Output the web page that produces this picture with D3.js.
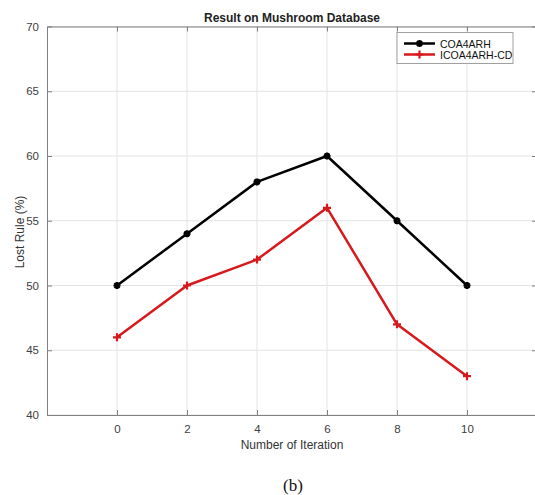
<!DOCTYPE html>
<html><head><meta charset="utf-8">
<script src="https://cdn.jsdelivr.net/npm/d3@7"></script>
<style>body{margin:0;background:#fff}svg{display:block}</style>
</head><body>
<svg id="c" width="535" height="495"></svg>
<script>
const iterations = [0, 2, 4, 6, 8, 10];
const coa4arh = [50, 54, 58, 60, 55, 50];
const icoa4arhCD = [46, 50, 52, 56, 47, 43];
const xTicks = [0, 2, 4, 6, 8, 10];
const yTicks = [40, 45, 50, 55, 60, 65, 70];
const seriesNames = ["COA4ARH", "ICOA4ARH-CD"];
const seriesColors = ["#000000", "#d7191c"];

const svg = d3.select("#c");
const L = 47, R = 537, T = 26.5, B = 415;
const x = d3.scaleLinear().domain([-2, 12]).range([L, R]);
const y = d3.scaleLinear().domain([40, 70]).range([B, T]);
const font = "Arial, 'Liberation Sans', Helvetica, sans-serif";
const axisCol = "#808080";

// grid
const g = svg.append("g");
g.selectAll(".gx").data(xTicks).join("line")
  .attr("x1", d => x(d)).attr("x2", d => x(d)).attr("y1", T).attr("y2", B)
  .attr("stroke", "#e3e3e3").attr("stroke-width", 1);
g.selectAll(".gy").data(yTicks).join("line")
  .attr("x1", L).attr("x2", R).attr("y1", d => y(d)).attr("y2", d => y(d))
  .attr("stroke", "#e3e3e3").attr("stroke-width", 1);

// axes
const xAxis = d3.axisBottom(x).tickValues(xTicks).tickSizeInner(-5).tickSizeOuter(0).tickPadding(10);
const yAxis = d3.axisLeft(y).tickValues(yTicks).tickSizeInner(-5).tickSizeOuter(0).tickPadding(8);
const xa = svg.append("g").attr("transform", `translate(0,${B})`).call(xAxis);
const ya = svg.append("g").attr("transform", `translate(${L},0)`).call(yAxis);
// top & right ticks
svg.append("g").attr("transform", `translate(0,${T})`).call(d3.axisTop(x).tickValues(xTicks).tickSizeInner(-5).tickSizeOuter(0).tickFormat(""));
svg.append("g").attr("transform", `translate(${R},0)`).call(d3.axisRight(y).tickValues(yTicks).tickSizeInner(-5).tickSizeOuter(0).tickFormat(""));
svg.selectAll(".domain").attr("stroke", axisCol);
svg.selectAll(".tick line").attr("stroke", axisCol);
svg.selectAll(".tick text").attr("fill", "#404040").attr("font-size", 11.5).attr("font-family", font);

// series
const series = [coa4arh, icoa4arhCD];
const line = d3.line().x((d, i) => x(iterations[i])).y(d => y(d));
series.forEach((s, k) => {
  svg.append("path").datum(s).attr("d", line)
    .attr("fill", "none").attr("stroke", seriesColors[k]).attr("stroke-width", 2.5)
    .attr("stroke-linejoin", "round");
  svg.selectAll(".m" + k).data(s).join("path")
    .attr("transform", (d, i) => `translate(${x(iterations[i])},${y(d)})`)
    .attr("d", k === 0 ? "M-3.5,0H3.5M0,-3.5V3.5M-2.5,-2.5L2.5,2.5M-2.5,2.5L2.5,-2.5" : "M-4,0H4M0,-4V4")
    .attr("stroke", seriesColors[k]).attr("stroke-width", 2.2).attr("fill", "none");
});

// title
svg.append("text").attr("x", (L + R) / 2).attr("y", 22).attr("text-anchor", "middle")
  .attr("font-family", font).attr("font-weight", "bold").attr("font-size", 12).attr("fill", "#222")
  .text("Result on Mushroom Database");
// axis labels
svg.append("text").attr("x", 292).attr("y", 449).attr("text-anchor", "middle")
  .attr("font-family", font).attr("font-size", 12).attr("fill", "#333").text("Number of Iteration");
svg.append("text").attr("transform", "translate(24,232) rotate(-90)").attr("text-anchor", "middle")
  .attr("font-family", font).attr("font-size", 12).attr("fill", "#333").text("Lost Rule (%)");
// caption
svg.append("text").attr("x", 293).attr("y", 491).attr("text-anchor", "middle")
  .attr("font-family", "'Liberation Serif', 'Times New Roman', serif").attr("font-size", 17).attr("fill", "#111").text("(b)");

// legend
const lg = svg.append("g");
lg.append("rect").attr("x", 397).attr("y", 32.5).attr("width", 116).attr("height", 31)
  .attr("fill", "#fff").attr("stroke", "#a0a0a0").attr("stroke-width", 1);
seriesNames.forEach((n, k) => {
  const yy = 43.5 + k * 11;
  lg.append("line").attr("x1", 404).attr("x2", 435).attr("y1", yy).attr("y2", yy)
    .attr("stroke", seriesColors[k]).attr("stroke-width", 2.5);
  lg.append("path").attr("transform", `translate(419.5,${yy})`)
    .attr("d", k === 0 ? "M-3.5,0H3.5M0,-3.5V3.5M-2.5,-2.5L2.5,2.5M-2.5,2.5L2.5,-2.5" : "M-4,0H4M0,-4V4")
    .attr("stroke", seriesColors[k]).attr("stroke-width", 2.2);
  lg.append("text").attr("x", 440).attr("y", yy + 4).attr("font-family", font).attr("font-size", 10.5)
    .attr("fill", "#111").text(n);
});
</script>
</body></html>
